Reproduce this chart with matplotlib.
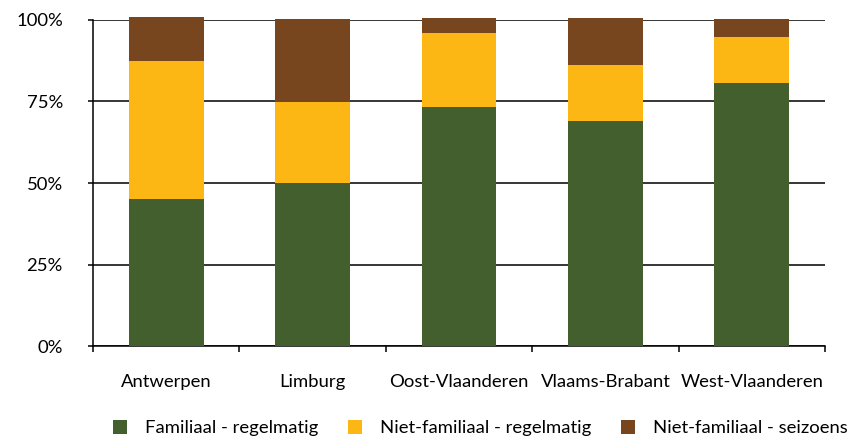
import matplotlib
matplotlib.use("Agg")
import matplotlib.pyplot as plt
import numpy as np
from matplotlib.ticker import FixedLocator, PercentFormatter, NullFormatter
from matplotlib.patches import Patch

plt.rcParams['font.family'] = ['Lato', 'DejaVu Sans']

provinces = ["Antwerpen", "Limburg", "Oost-Vlaanderen", "Vlaams-Brabant", "West-Vlaanderen"]
series_names = ["Familiaal - regelmatig", "Niet-familiaal - regelmatig", "Niet-familiaal - seizoens"]
familiaal_regelmatig = [45.1, 50.0, 73.3, 69.1, 80.6]
niet_familiaal_regelmatig = [42.3, 24.8, 22.6, 17.0, 14.1]
niet_familiaal_seizoens = [13.4, 25.4, 4.6, 14.4, 5.5]
colors = ["#445F2E", "#FDB714", "#77461E"]

fig = plt.figure(figsize=(8.51, 4.38), dpi=100)
ax = fig.add_axes([93/851, 1-346.3/438, (825-93)/851, (346.3-19.7)/438])

x = np.arange(len(provinces))
bottom = np.zeros(len(provinces))
for vals, col in zip([familiaal_regelmatig, niet_familiaal_regelmatig, niet_familiaal_seizoens], colors):
    ax.bar(x, vals, width=0.51, bottom=bottom, color=col, zorder=3, clip_on=False)
    bottom += np.array(vals)

ax.set_xlim(-0.5, len(provinces) - 0.5)
ax.set_ylim(0, 100)
ax.yaxis.set_major_locator(FixedLocator([0, 25, 50, 75, 100]))
ax.yaxis.set_major_formatter(PercentFormatter(decimals=0))
ax.grid(axis='y', color='black', linewidth=1.1, zorder=0)
ax.set_axisbelow(True)

ax.set_xticks(x)
ax.set_xticklabels(provinces)
ax.tick_params(axis='x', which='major', length=0, pad=20, labelsize=13.3)
ax.set_xticks(np.arange(-0.5, len(provinces)), minor=True)
ax.tick_params(axis='x', which='minor', length=4, width=1.1, direction='out', color='black')
ax.xaxis.set_minor_formatter(NullFormatter())
ax.tick_params(axis='y', length=3.6, width=1.1, direction='out', labelsize=13.3, pad=18)

for s in ['top', 'right']:
    ax.spines[s].set_visible(False)
for s in ['left', 'bottom']:
    ax.spines[s].set_color('black')
    ax.spines[s].set_linewidth(1.1)

handles = [Patch(facecolor=c, edgecolor='none') for c in colors]
fig.legend(handles, series_names, loc='center left', bbox_to_anchor=(113/851, 1-428/438),
           ncol=3, frameon=False, fontsize=13.3, handlelength=0.76, handleheight=0.76,
           columnspacing=1.6, handletextpad=0.98, borderpad=0, borderaxespad=0)

fig.savefig("out.png", dpi=100)
